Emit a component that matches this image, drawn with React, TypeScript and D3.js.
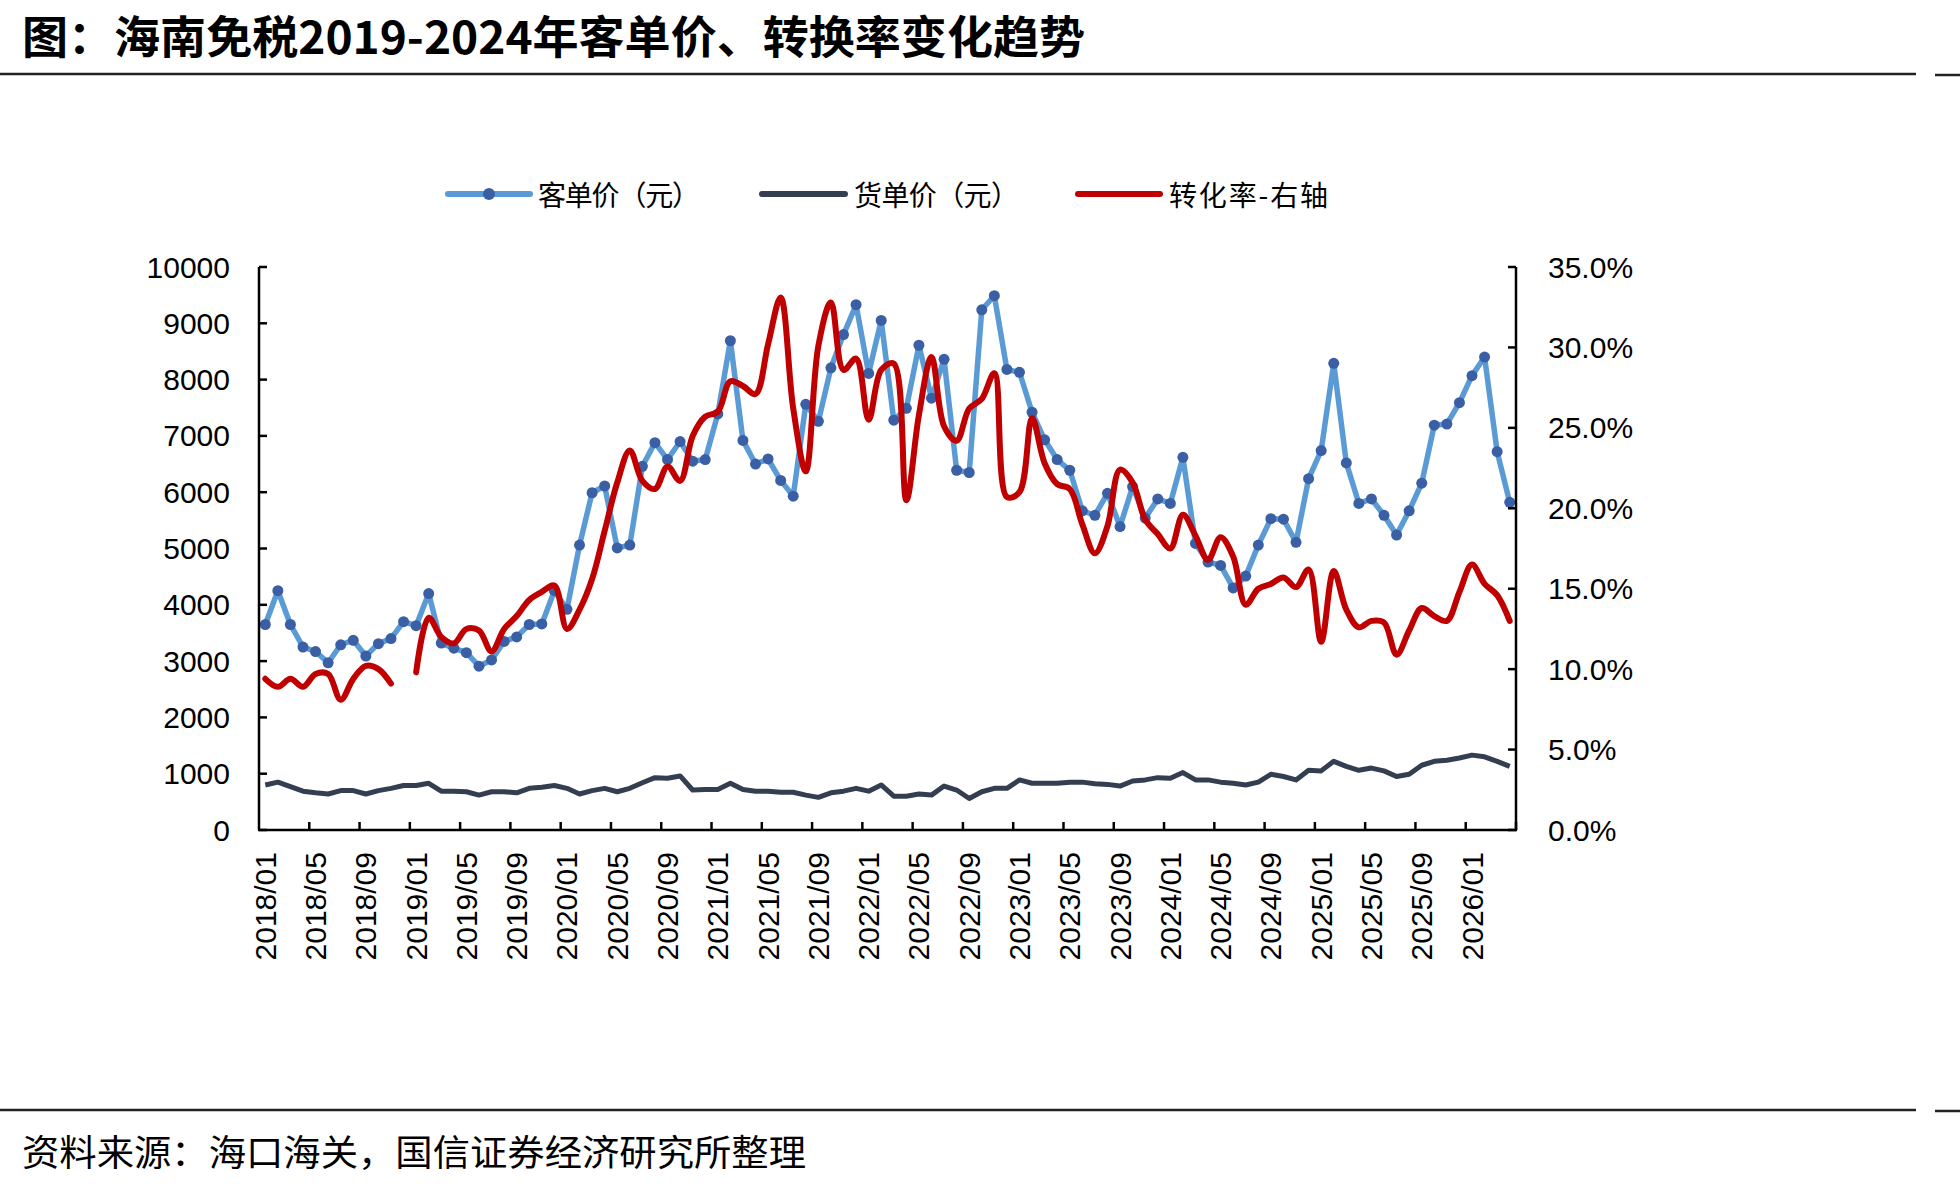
import React from 'react';
import * as d3 from 'd3';

// ---------- data ----------
const startYear = 2018;
const monthCount = 100; // 2018/01 .. 2026/04
const months: string[] = Array.from({ length: monthCount }, (_, i) =>
  `${startYear + Math.floor(i / 12)}/${String((i % 12) + 1).padStart(2, '0')}`
);

// 客单价（元）
const perCustomer: number[] = [
  3650, 4250, 3650, 3250, 3170, 2970, 3290, 3370, 3090, 3310, 3400, 3700,
  3630, 4200, 3320, 3230, 3150, 2910, 3020, 3350, 3430, 3650, 3660, 4250,
  3920, 5060, 5990, 6110, 5010, 5060, 6460, 6880, 6580, 6900, 6550, 6580,
  7390, 8690, 6920, 6500, 6590, 6210, 5930, 7560, 7260, 8210, 8800, 9330,
  8110, 9050, 7280, 7490, 8610, 7670, 8360, 6390, 6350, 9240, 9490, 8180,
  8130, 7420, 6930, 6580, 6390, 5670, 5590, 5980, 5390, 6100, 5540, 5880,
  5800, 6620, 5090, 4760, 4700, 4300, 4510, 5060, 5530, 5520, 5110, 6240,
  6740, 8290, 6520, 5800, 5880, 5590, 5240, 5670, 6160, 7190, 7210, 7590,
  8070, 8400, 6720, 5820,
];

// 货单价（元）
const perItem: number[] = [
  800, 850, 770, 690, 660, 640, 700, 700, 640, 700, 740, 790,
  790, 830, 690, 690, 680, 620, 680, 680, 660, 740, 760, 790,
  740, 640, 700, 740, 680, 740, 840, 930, 920, 960, 710, 720,
  720, 830, 720, 690, 690, 670, 670, 620, 580, 660, 690, 740,
  690, 800, 600, 600, 640, 620, 780, 710, 560, 680, 740, 740,
  890, 830, 830, 830, 850, 850, 820, 810, 780, 870, 890, 930,
  920, 1020, 890, 890, 850, 830, 800, 850, 990, 950, 890, 1060,
  1050, 1220, 1130, 1060, 1100, 1050, 950, 990, 1150, 1220, 1240, 1280,
  1330, 1300, 1220, 1130,
];

// 转化率（%）- 右轴
const conversion: (number | null)[] = [
  9.4, 8.9, 9.4, 8.9, 9.7, 9.7, 8.1, 9.4, 10.2, 10.0, 9.1, null,
  9.8, 13.2, 12.0, 11.6, 12.5, 12.4, 11.1, 12.5, 13.3, 14.3, 14.8, 15.2,
  12.5, 13.7, 15.6, 18.6, 21.6, 23.6, 21.7, 21.2, 22.6, 21.7, 24.5, 25.7,
  26.0, 27.9, 27.6, 27.1, 30.2, 33.1, 26.2, 22.3, 30.1, 32.8, 28.6, 29.3,
  25.5, 28.6, 29.0, 20.5, 25.8, 29.4, 25.1, 24.2, 26.2, 26.8, 28.4, 20.7,
  21.0, 25.6, 22.8, 21.5, 21.2, 19.0, 17.2, 18.9, 22.4, 21.6, 19.3, 18.4,
  17.5, 19.6, 18.3, 16.8, 18.2, 17.0, 14.0, 15.0, 15.3, 15.7, 15.1, 16.2,
  11.7, 16.1, 13.7, 12.6, 13.0, 12.9, 10.9, 12.4, 13.8, 13.3, 13.0, 14.8,
  16.5, 15.3, 14.6, 13.0,
];

const leftTicks = [0, 1000, 2000, 3000, 4000, 5000, 6000, 7000, 8000, 9000, 10000];
const rightTicks = [0, 5, 10, 15, 20, 25, 30, 35];
const labelEvery = 4;

const title = '图：海南免税2019-2024年客单价、转换率变化趋势';
const source = '资料来源：海口海关，国信证券经济研究所整理';
const legendNames = ['客单价（元）', '货单价（元）', '转化率-右轴'];

// ---------- layout ----------
const W = 1960;
const H = 1185;
const PL = 259, PR = 1516, PT = 267, PB = 830;
const NUM_FONT = '"Liberation Sans", Arial, sans-serif';
const CJK_FONT = '"Noto Sans CJK SC", "Noto Sans", sans-serif';

const C_BLUE = '#5B9BD5';
const C_MARK = '#3A5FA5';
const C_DARK = '#333F50';
const C_RED = '#C00000';

const legendItems = [
  { x1: 448, x2: 530, tx: 538, tw: 162, color: C_BLUE, marker: true },
  { x1: 762, x2: 845, tx: 854, tw: 165, color: C_DARK, marker: false },
  { x1: 1078, x2: 1160, tx: 1169, tw: 159, color: C_RED, marker: false },
];

export default function App() {
  const x = d3.scaleBand<string>().domain(months).range([PL, PR]).padding(0);
  const bw = x.bandwidth();
  const cx = (i: number) => (x(months[i]) as number) + bw / 2;
  const yL = d3.scaleLinear().domain([0, 10000]).range([PB, PT]);
  const yR = d3.scaleLinear().domain([0, 35]).range([PB, PT]);

  const blueLine = d3.line<number>().x((_, i) => cx(i)).y((d) => yL(d));
  const darkLine = d3.line<number>().x((_, i) => cx(i)).y((d) => yL(d));
  const redLine = d3
    .line<number | null>()
    .defined((d) => d != null)
    .x((_, i) => cx(i))
    .y((d) => yR(d as number))
    .curve(d3.curveCatmullRom.alpha(0.5));

  const boundaryTicks = d3.range(labelEvery, monthCount + 1, labelEvery).map((k) => PL + k * bw);

  return (
    <svg width={W} height={H} viewBox={`0 0 ${W} ${H}`} style={{ display: 'block', background: '#fff' }}>
      <style>{`body{margin:0;overflow:hidden;}`}</style>
      <rect x={0} y={0} width={W} height={H} fill="#fff" />

      {/* title */}
      <text x={22} y={54} fontFamily={CJK_FONT} fontWeight={700} fontSize={45} fill="#000"
        textLength={1063} lengthAdjust="spacingAndGlyphs">{title}</text>

      {/* rules */}
      <line x1={0} x2={1916} y1={74} y2={74} stroke="#222" strokeWidth={2.5} />
      <line x1={1935} x2={1960} y1={75} y2={75} stroke="#222" strokeWidth={2.5} />
      <line x1={0} x2={1916} y1={1110} y2={1110} stroke="#222" strokeWidth={2.5} />
      <line x1={1935} x2={1960} y1={1111} y2={1111} stroke="#222" strokeWidth={2.5} />

      {/* legend */}
      <g>
        {legendItems.map((it, k) => (
          <g key={'lg' + k}>
            <line x1={it.x1} x2={it.x2} y1={194} y2={194} stroke={it.color} strokeWidth={6} strokeLinecap="round" />
            {it.marker ? <circle cx={(it.x1 + it.x2) / 2} cy={194} r={6} fill={C_MARK} /> : null}
            <text x={it.tx} y={194} dominantBaseline="central" fontFamily={CJK_FONT} fontSize={28} fill="#000"
              textLength={it.tw} lengthAdjust="spacing">{legendNames[k]}</text>
          </g>
        ))}
      </g>

      {/* series */}
      <path d={darkLine(perItem) || ''} fill="none" stroke={C_DARK} strokeWidth={5} strokeLinejoin="round" />
      <path d={blueLine(perCustomer) || ''} fill="none" stroke={C_BLUE} strokeWidth={5.5} strokeLinejoin="round" />
      {perCustomer.map((d, i) => (
        <circle key={i} cx={cx(i)} cy={yL(d)} r={5.5} fill={C_MARK} />
      ))}
      <path d={redLine(conversion) || ''} fill="none" stroke={C_RED} strokeWidth={6} strokeLinejoin="round" strokeLinecap="round" />

      {/* axes */}
      <g stroke="#000" strokeWidth={2.5} fill="none">
        <line x1={PL} x2={PL} y1={PT} y2={PB} />
        <line x1={PR} x2={PR} y1={PT} y2={PB} />
        <line x1={PL - 1} x2={PR + 1} y1={PB} y2={PB} />
        {leftTicks.map((t) => (
          <line key={'lt' + t} x1={PL} x2={PL + 8} y1={yL(t)} y2={yL(t)} />
        ))}
        {rightTicks.map((t) => (
          <line key={'rt' + t} x1={PR - 8} x2={PR} y1={yR(t)} y2={yR(t)} />
        ))}
        {boundaryTicks.map((bx, k) => (
          <line key={'xt' + k} x1={bx} x2={bx} y1={PB} y2={PB - 8} />
        ))}
      </g>

      {leftTicks.map((t) => (
        <text key={'ll' + t} x={230} y={yL(t)} textAnchor="end" dominantBaseline="central"
          fontFamily={NUM_FONT} fontSize={30} fill="#000">{String(t)}</text>
      ))}
      {rightTicks.map((t) => (
        <text key={'rl' + t} x={1548} y={yR(t)} textAnchor="start" dominantBaseline="central"
          fontFamily={NUM_FONT} fontSize={30} fill="#000">{t.toFixed(1) + '%'}</text>
      ))}
      {months.map((m, i) =>
        i % labelEvery === 0 ? (
          <text key={'xl' + i} transform={`translate(${cx(i)},852) rotate(-90)`} textAnchor="end"
            dominantBaseline="central" fontFamily={NUM_FONT} fontSize={30} fill="#000">{m}</text>
        ) : null
      )}

      {/* source */}
      <text x={22} y={1150} dominantBaseline="central" fontFamily={CJK_FONT} fontSize={36} fill="#000"
        textLength={784} lengthAdjust="spacingAndGlyphs">{source}</text>
    </svg>
  );
}
